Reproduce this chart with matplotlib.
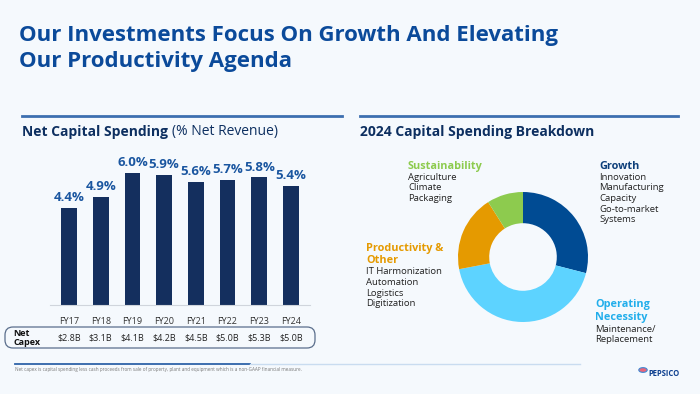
import matplotlib
matplotlib.use("Agg")
import matplotlib.pyplot as plt
from matplotlib.patches import FancyBboxPatch, Circle
from matplotlib.lines import Line2D
from matplotlib.transforms import blended_transform_factory

plt.rcParams['font.family'] = ['Open Sans', 'DejaVu Sans']

# Данные: чистые капзатраты (% от выручки)
years = ['FY17', 'FY18', 'FY19', 'FY20', 'FY21', 'FY22', 'FY23', 'FY24']
capex_pct = [4.4, 4.9, 6.0, 5.9, 5.6, 5.7, 5.8, 5.4]
capex_usd = ['$2.8B', '$3.1B', '$4.1B', '$4.2B', '$4.5B', '$5.0B', '$5.3B', '$5.0B']

# Структура капзатрат 2024 (доли, по часовой от 12 часов)
segments = ['Growth', 'Operating Necessity', 'Productivity & Other', 'Sustainability']
shares = [29, 43, 19, 9]
seg_colors = ['#004B93', '#5DD3FF', '#E59A00', '#8DCB4E']

W, H = 700, 394
bg = '#F5F9FD'
navy = '#0D2F60'
blue = '#0B4A9A'

fig = plt.figure(figsize=(7, 3.94), dpi=100, facecolor=bg)


def fx(px):
    return px / W


def fy(py):
    return 1 - py / H


# Заголовок
fig.text(fx(19), fy(36), 'Our Investments Focus On Growth And Elevating',
         fontsize=16, fontweight='bold', color=blue, va='center')
fig.text(fx(19), fy(62), 'Our Productivity Agenda',
         fontsize=16, fontweight='bold', color=blue, va='center')

# Разделительные линии над подзаголовками
fig.add_artist(Line2D([fx(22), fx(342)], [fy(116), fy(116)], color='#3D6FB0', lw=2))
fig.add_artist(Line2D([fx(360), fx(678)], [fy(116), fy(116)], color='#3D6FB0', lw=2))

t1 = fig.text(fx(22), fy(132), 'Net Capital Spending', fontsize=10, fontweight='bold',
              color=navy, va='center')
fig.add_artist(plt.Annotation('(% Net Revenue)', xy=(1, 0.5), xycoords=t1,
                              xytext=(3, 0), textcoords='offset points',
                              fontsize=10, color=navy, va='center'))
fig.text(fx(360), fy(132), '2024 Capital Spending Breakdown', fontsize=10,
         fontweight='bold', color=navy, va='center')

# Столбчатая диаграмма
ax = fig.add_axes([fx(50), fy(305), fx(260), (305 - 151) / H])
ax.set_facecolor('none')
x = list(range(len(years)))
ax.bar(x, capex_pct, width=0.5, color='#142F5E')
for xi, v in zip(x, capex_pct):
    ax.text(xi, v + 0.17, f'{v:.1f}%', ha='center', va='bottom', fontsize=9.5,
            fontweight='bold', color='#1A56A0')
ax.set_xlim(-0.6, 7.6)
ax.set_ylim(0, 7.0)
for s in ['top', 'right', 'left']:
    ax.spines[s].set_visible(False)
ax.spines['bottom'].set_color('#D0D5DC')
ax.set_yticks([])
ax.set_xticks(x)
ax.set_xticklabels(years, fontsize=6.5, color='#333333')
ax.tick_params(axis='x', length=0, pad=9)

tr = blended_transform_factory(ax.transData, fig.transFigure)
for xi, v in zip(x, capex_usd):
    ax.text(xi, fy(338), v, transform=tr, ha='center', va='center', fontsize=6.5,
            color='#222222')
fig.text(fx(13), fy(338), 'Net\nCapex', fontsize=6.5, fontweight='bold',
         color='#111111', va='center', linespacing=1.1)

box = FancyBboxPatch((0.05, 0.46), 3.10, 0.21, boxstyle='round,pad=0,rounding_size=0.08',
                     transform=fig.dpi_scale_trans, facecolor='none',
                     edgecolor='#5A6E8C', lw=0.9)
fig.add_artist(box)

# Кольцевая диаграмма
r = 65
axp = fig.add_axes([fx(523 - 75), fy(257 + 75), fx(150), 150 / H])
axp.pie(shares, colors=seg_colors, startangle=90, counterclock=False,
        wedgeprops=dict(width=0.48, edgecolor='none'))
axp.set_xlim(-75 / r, 75 / r)
axp.set_ylim(-75 / r, 75 / r)
axp.set_aspect('equal')
axp.axis('off')

label_blocks = [
    (408, 166, ['Sustainability'], ['Agriculture', 'Climate', 'Packaging'], seg_colors[3]),
    (599, 166, ['Growth'], ['Innovation', 'Manufacturing', 'Capacity', 'Go-to-market', 'Systems'],
     '#0D3F7A'),
    (366, 248, ['Productivity &', 'Other'], ['IT Harmonization', 'Automation', 'Logistics',
                                             'Digitization'], seg_colors[2]),
    (595, 305, ['Operating', 'Necessity'], ['Maintenance/', 'Replacement'], '#22AEEB'),
]
for lx, ly, heads, items, col in label_blocks:
    yy = ly
    for h in heads:
        fig.text(fx(lx), fy(yy), h, fontsize=7.8, fontweight='bold', color=col, va='center')
        yy += 12.5
    yy -= 1
    for it in items:
        fig.text(fx(lx), fy(yy), it, fontsize=6.8, color='#222222', va='center')
        yy += 10.5

# Подвал
fig.add_artist(Line2D([fx(15), fx(250)], [fy(364), fy(364)], color='#2E63A8', lw=1.3))
fig.add_artist(Line2D([fx(250), fx(580)], [fy(364), fy(364)], color='#C9DCF0', lw=1.0))
fig.text(fx(15), fy(370), 'Net capex is capital spending less cash proceeds from sale of '
         'property, plant and equipment which is a non-GAAP financial measure.',
         fontsize=3.3, color='#777777', va='center')
fig.add_artist(Circle((fx(643), fy(370)), 0.006, transform=fig.transFigure,
                      facecolor='#E8657A', edgecolor='#3E8BD6', lw=0.8))
fig.text(fx(648), fy(374), 'PEPSICO', fontsize=5.5, fontweight='bold', color='#0D3F8F',
         va='center')

plt.savefig('out.png', dpi=100, facecolor=bg)
